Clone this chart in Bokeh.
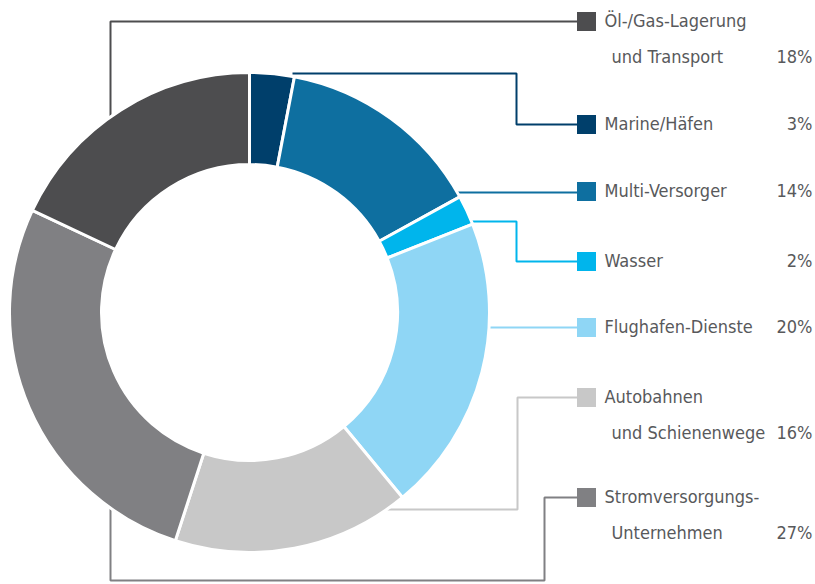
import math
from bokeh.plotting import figure
from bokeh.models import Range1d, ColumnDataSource
from bokeh.core.properties import value
from bokeh.embed import file_html
from bokeh.resources import INLINE

# ---- data (clockwise from top) ----
categories = ["Marine/Häfen", "Multi-Versorger", "Wasser", "Flughafen-Dienste",
              "Autobahnen und Schienenwege", "Stromversorgungs-Unternehmen",
              "Öl-/Gas-Lagerung und Transport"]
shares = [3, 14, 2, 20, 16, 27, 18]
colors = ["#003f6b", "#0e6fa0", "#00b5ec", "#8fd6f5", "#c8c8c8", "#808083", "#4d4d4f"]
label_line1 = ["Marine/Häfen", "Multi-Versorger", "Wasser", "Flughafen-Dienste",
               "Autobahnen", "Stromversorgungs-", "Öl-/Gas-Lagerung"]
label_line2 = ["", "", "", "", "und Schienenwege", "Unternehmen", "und Transport"]
pct_labels = [f"{v}%" for v in shares]

W, H = 815, 584
def Y(py):
    return H - py

p = figure(width=W, height=H, output_backend="svg", toolbar_location=None,
           x_range=Range1d(0, W), y_range=Range1d(0, H), min_border=0)
p.axis.visible = False
p.grid.visible = False
p.outline_line_color = None
p.background_fill_color = "white"
p.border_fill_color = "white"

cx, cy = 249, Y(312)
R_out, R_in = 240, 148

# ---- connector lines (layout) ----
legend_y = [124, 191, 261, 327, 397, 497, 21]   # row of the square for each category
sq_x = 586
paths = [
    [(292, 73), (516, 73), (516, 124), (sq_x, 124)],
    [(455, 192), (sq_x, 192)],
    [(468, 221), (516, 221), (516, 261), (sq_x, 261)],
    [(488, 327), (sq_x, 327)],
    [(387, 509), (517, 509), (517, 397), (sq_x, 397)],
    [(110, 505), (110, 580), (544, 580), (544, 497), (sq_x, 497)],
    [(110, 118), (110, 21), (sq_x, 21)],
]
for path, c in zip(paths, colors):
    p.line([q[0] for q in path], [Y(q[1]) for q in path], line_color=c, line_width=2)

# ---- donut ----
starts, ends = [], []
cum = 0
total = sum(shares)
for v in shares:
    starts.append(math.pi / 2 - 2 * math.pi * cum / total)
    cum += v
    ends.append(math.pi / 2 - 2 * math.pi * cum / total)
src = ColumnDataSource(dict(start=starts, end=ends, color=colors))
p.annular_wedge(x=cx, y=cy, inner_radius=R_in, outer_radius=R_out,
                start_angle="start", end_angle="end", direction="clock",
                fill_color="color", line_color="white", line_width=3, source=src)

# ---- legend squares & texts ----
font = value("'DejaVu Sans Condensed', 'Liberation Sans Narrow', 'Roboto', sans-serif")
txt_color = "#58595b"
fs = "18px"
p.scatter(x=[sq_x] * len(colors), y=[Y(v) for v in legend_y], marker="square",
          size=19, fill_color=colors, line_color=None)

l1_y = [Y(v - 1) for v in legend_y]
p.text(x=[604] * len(label_line1), y=l1_y, text=label_line1, text_font=font,
       text_font_size=fs, text_color=txt_color, text_baseline="middle", text_align="left")
l2_x, l2_y, l2_t = [], [], []
pct_x, pct_y = [], []
for i, (l2, ly) in enumerate(zip(label_line2, legend_y)):
    if l2:
        l2_x.append(611); l2_y.append(Y(ly + 35)); l2_t.append(l2)
        pct_y.append(Y(ly + 35))
    else:
        pct_y.append(Y(ly - 1))
    pct_x.append(812)
p.text(x=l2_x, y=l2_y, text=l2_t, text_font=font, text_font_size=fs,
       text_color=txt_color, text_baseline="middle", text_align="left")
p.text(x=pct_x, y=pct_y, text=pct_labels, text_font=font, text_font_size=fs,
       text_color=txt_color, text_baseline="middle", text_align="right")

open("out.html", "w").write(file_html(p, INLINE))
